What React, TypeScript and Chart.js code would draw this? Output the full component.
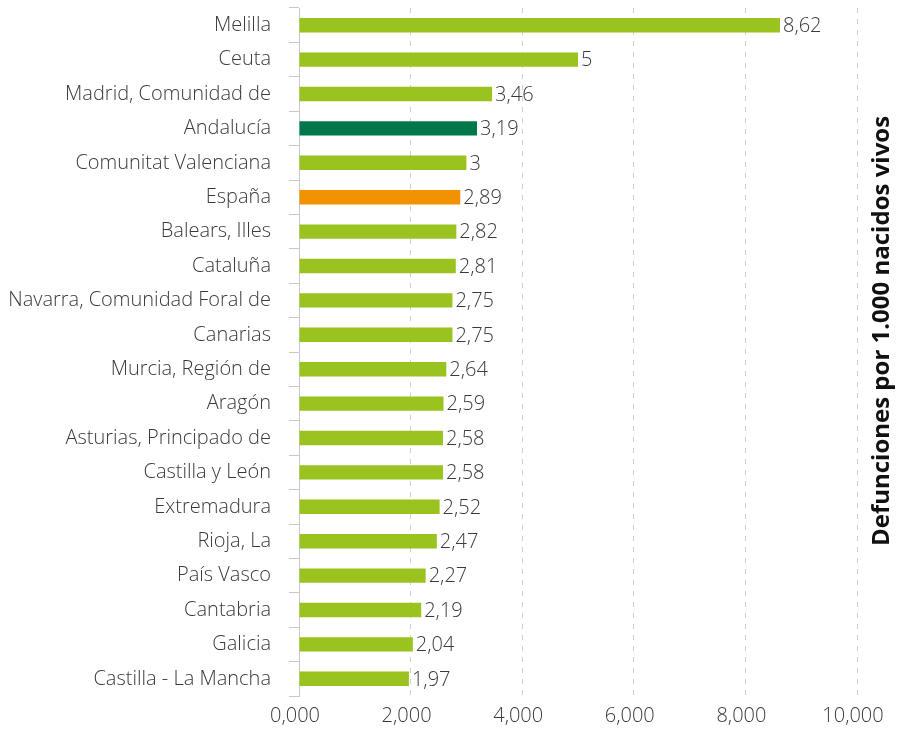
import React, { useEffect, useRef } from "react";
import { Chart, registerables } from "chart.js";

Chart.register(...registerables);

const categories = [
  "Melilla",
  "Ceuta",
  "Madrid, Comunidad de",
  "Andalucía",
  "Comunitat Valenciana",
  "España",
  "Balears, Illes",
  "Cataluña",
  "Navarra, Comunidad Foral de",
  "Canarias",
  "Murcia, Región de",
  "Aragón",
  "Asturias, Principado de",
  "Castilla y León",
  "Extremadura",
  "Rioja, La",
  "País Vasco",
  "Cantabria",
  "Galicia",
  "Castilla - La Mancha",
];

const values = [
  8.62, 5, 3.46, 3.19, 3, 2.89, 2.82, 2.81, 2.75, 2.75, 2.64, 2.59, 2.58, 2.58,
  2.52, 2.47, 2.27, 2.19, 2.04, 1.97,
];

const valueLabels = [
  "8,62", "5", "3,46", "3,19", "3", "2,89", "2,82", "2,81", "2,75", "2,75",
  "2,64", "2,59", "2,58", "2,58", "2,52", "2,47", "2,27", "2,19", "2,04", "1,97",
];

const xTicks = [0, 2, 4, 6, 8, 10];
const axisTitle = "Defunciones por 1.000 nacidos vivos";

const GREEN = "#9AC31F";
const DARK_GREEN = "#00774A";
const ORANGE = "#F39200";
const TEXT = "#3a3a3a";
const FONT = "'Open Sans', sans-serif";

export default function App() {
  const ref = useRef<HTMLCanvasElement | null>(null);

  useEffect(() => {
    document.body.style.margin = "0";
    const canvas = ref.current;
    if (!canvas) return;

    const colors = categories.map((c) =>
      c === "Andalucía" ? DARK_GREEN : c === "España" ? ORANGE : GREEN
    );

    const labelPlugin = {
      id: "valueLabels",
      afterDatasetsDraw(chart: any) {
        const ctx = chart.ctx;
        const meta = chart.getDatasetMeta(0);
        ctx.save();
        ctx.font = `300 20px ${FONT}`;
        ctx.fillStyle = TEXT;
        ctx.textAlign = "left";
        ctx.textBaseline = "middle";
        meta.data.forEach((bar: any, i: number) => {
          ctx.fillText(valueLabels[i], bar.x + 3, bar.y + 1);
        });
        ctx.restore();
      },
    };

    const titlePlugin = {
      id: "rightTitle",
      afterDraw(chart: any) {
        const ctx = chart.ctx;
        ctx.save();
        ctx.translate(882, 331);
        ctx.rotate(-Math.PI / 2);
        ctx.font = `bold 24px ${FONT}`;
        ctx.fillStyle = "#111";
        ctx.textAlign = "center";
        ctx.textBaseline = "middle";
        ctx.fillText(axisTitle, 0, 0);
        ctx.restore();
      },
    };

    const chart = new Chart(canvas, {
      type: "bar",
      data: {
        labels: categories,
        datasets: [
          {
            data: values,
            backgroundColor: colors,
            borderWidth: 0,
            categoryPercentage: 1,
            barPercentage: 0.42,
          },
        ],
      },
      options: {
        indexAxis: "y",
        animation: false,
        responsive: false,
        maintainAspectRatio: false,
        layout: { padding: { top: 8, right: 42, left: 0, bottom: 0 } },
        plugins: {
          legend: { display: false },
          tooltip: { enabled: false },
        },
        scales: {
          x: {
            min: 0,
            max: 10,
            afterBuildTicks(scale: any) {
              scale.ticks = xTicks.map((v) => ({ value: v }));
            },
            afterFit(scale: any) {
              scale.height = 34;
              scale.paddingLeft = 0;
              scale.paddingRight = 0;
            },
            ticks: {
              font: { family: FONT, size: 20, weight: "300" },
              color: TEXT,
              padding: 8,
              labelOffset: -4,
              maxRotation: 0,
              callback: (v: any) => Number(v).toFixed(3).replace(".", ","),
            },
            grid: {
              color: (ctx: any) =>
                ctx.tick && ctx.tick.value === 0 ? "rgba(0,0,0,0)" : "#cfcfcf",
              drawTicks: false,
              tickLength: 0,
            },
            border: { display: false, dash: [5, 6] },
          },
          y: {
            afterFit(scale: any) {
              scale.width = 299;
              scale.paddingTop = 0;
              scale.paddingBottom = 0;
            },
            ticks: {
              font: { family: FONT, size: 20, weight: "300" },
              color: TEXT,
              padding: 18,
            },
            grid: {
              offset: true,
              drawOnChartArea: false,
              drawTicks: true,
              tickLength: 10,
              color: "#c8c8c8",
            },
            border: { display: true, color: "#c8c8c8" },
          },
        },
      },
      plugins: [labelPlugin, titlePlugin],
    });

    return () => chart.destroy();
  }, []);

  return (
    <div style={{ width: 899, height: 730 }}>
      <canvas ref={ref} width={899} height={730} style={{ display: "block" }} />
    </div>
  );
}
